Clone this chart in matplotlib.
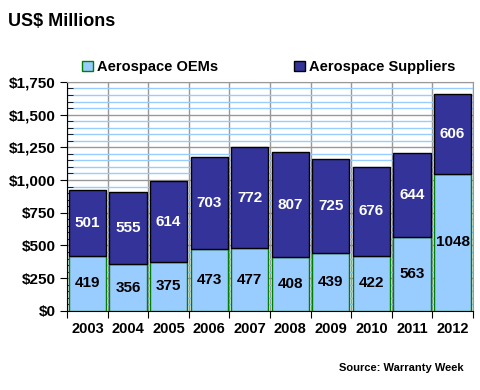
import numpy as np
import matplotlib.pyplot as plt
from matplotlib.patches import Patch
from matplotlib.ticker import MultipleLocator, FuncFormatter

plt.rcParams['font.family'] = ['Liberation Sans', 'DejaVu Sans']

years = ['2003', '2004', '2005', '2006', '2007', '2008', '2009', '2010', '2011', '2012']
oems = [419, 356, 375, 473, 477, 408, 439, 422, 563, 1048]
suppliers = [501, 555, 614, 703, 772, 807, 725, 676, 644, 606]

c_oem = '#99ccff'
c_sup = '#333399'

fig = plt.figure(figsize=(4.8, 3.9), dpi=100)
ax = fig.add_axes([0.14, 0.203, 0.845, 0.587])

x = np.arange(len(years))
ax.bar(x, oems, width=0.92, color=c_oem, edgecolor='#008000', linewidth=1, zorder=3)
ax.bar(x, suppliers, width=0.92, bottom=oems, color=c_sup, edgecolor='black', linewidth=1, zorder=3)

for i in range(len(years)):
    ax.text(x[i], oems[i] / 2, str(oems[i]), ha='center', va='center',
            fontsize=11, fontweight='bold', color='black', zorder=4)
    ax.text(x[i], oems[i] + suppliers[i] / 2, str(suppliers[i]), ha='center', va='center',
            fontsize=11, fontweight='bold', color='white', zorder=4)

ax.set_xlim(-0.5, len(years) - 0.5)
ax.set_ylim(0, 1750)
ax.yaxis.set_major_locator(MultipleLocator(250))
ax.yaxis.set_minor_locator(MultipleLocator(50))
ax.yaxis.set_major_formatter(FuncFormatter(lambda v, p: '${:,.0f}'.format(v)))
ax.grid(axis='y', which='minor', color='#99ccff', linewidth=1, zorder=1)
ax.grid(axis='y', which='major', color='#999999', linewidth=1, zorder=2)

# vertical lines between the years
ax.set_xticks(np.arange(-0.5, len(years), 1.0))
ax.set_xticklabels([])
ax.set_xticks(x, minor=True)
ax.set_xticklabels(years, minor=True, fontsize=10.5, fontweight='bold')
ax.tick_params(axis='x', which='minor', length=0, pad=8)
ax.tick_params(axis='x', which='major', length=5, direction='out', color='black')
ax.grid(axis='x', which='major', color='#999999', linewidth=1, zorder=2)

ax.tick_params(axis='y', which='major', length=5, direction='out', labelsize=11)
ax.tick_params(axis='y', which='minor', length=4, direction='in')
for lab in ax.get_yticklabels():
    lab.set_fontweight('bold')

for s in ['left', 'bottom']:
    ax.spines[s].set_color('black')
ax.spines['top'].set_color('#999999')
ax.spines['right'].set_color('#999999')

fig.text(0.017, 0.945, 'US$ Millions', fontsize=13, fontweight='bold', ha='left', va='center')

handles = [Patch(facecolor=c_oem, edgecolor='#008000', label='Aerospace OEMs'),
           Patch(facecolor=c_sup, edgecolor='black', label='Aerospace Suppliers')]
leg = fig.legend(handles=handles, loc='center', bbox_to_anchor=(0.56, 0.828), ncol=2,
                 frameon=False, handlelength=0.75, handleheight=0.75, handletextpad=0.3,
                 columnspacing=5.2, prop={'size': 10.5, 'weight': 'bold'})

fig.text(0.965, 0.057, 'Source: Warranty Week', fontsize=8, fontweight='bold', ha='right', va='center')

fig.savefig('out.png', dpi=100)
